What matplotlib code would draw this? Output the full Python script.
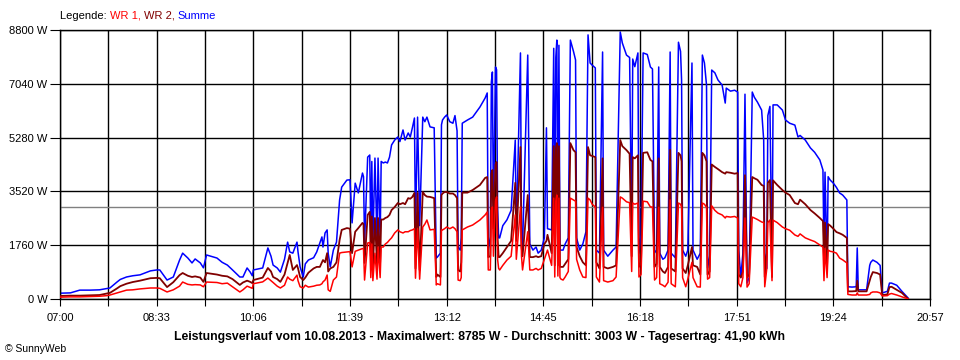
import numpy as np
import matplotlib
matplotlib.use("Agg")
import matplotlib.pyplot as plt

# minutes after 07:00, WR 1 / WR 2 / Summe in W
minutes = [0, 10, 19, 29, 38, 45, 48, 55, 58, 64, 70, 77, 87, 93, 96, 103, 109, 115, 118, 123,
           127, 130, 135, 138, 141, 151, 156, 161, 166, 173, 176, 180, 183, 185, 186, 195, 200, 203, 205, 209,
           212, 216, 219, 221, 224, 228, 229, 231, 234, 236, 239, 244, 247, 250, 252, 253, 255, 257, 258, 260,
           263, 266, 269, 271, 276, 279, 281, 284, 287, 291, 292, 293, 296, 298, 299, 300, 301, 303, 305, 306,
           308, 309, 311, 313, 315, 317, 319, 322, 325, 327, 330, 332, 335, 337, 339, 341, 342, 344, 346, 349,
           351, 353, 356, 360, 362, 363, 366, 367, 368, 370, 372, 375, 378, 380, 382, 383, 385, 386, 387, 392,
           397, 404, 409, 411, 412, 414, 415, 416, 417, 419, 420, 421, 422, 423, 426, 430, 434, 438, 439, 443,
           444, 445, 450, 452, 455, 458, 460, 463, 466, 468, 469, 473, 475, 476, 477, 478, 479, 480, 481, 482,
           484, 486, 489, 491, 494, 496, 497, 500, 503, 506, 508, 510, 512, 515, 516, 519, 522, 523, 527, 532,
           535, 539, 541, 545, 548, 550, 551, 553, 556, 557, 559, 561, 565, 568, 570, 572, 574, 576, 577, 580,
           582, 585, 587, 588, 592, 595, 597, 598, 599, 602, 604, 608, 609, 613, 616, 618, 620, 622, 623, 625,
           627, 630, 633, 637, 640, 641, 645, 649, 652, 653, 655, 657, 659, 661, 663, 666, 668, 671, 675, 677,
           678, 680, 681, 683, 685, 686, 690, 695, 698, 702, 707, 710, 712, 717, 722, 726, 731, 734, 735, 736,
           738, 739, 741, 744, 747, 750, 753, 757, 758, 762, 766, 767, 768, 776, 779, 780, 782, 786, 789, 791,
           796, 798, 800, 805, 810, 816]

wr1 = [60, 70, 70, 80, 90, 110, 130, 200, 230, 290, 300, 330, 360, 360, 350, 230, 300, 420, 555, 480,
       460, 470, 460, 400, 555, 540, 500, 520, 400, 230, 300, 420, 380, 350, 500, 560, 685, 600, 540, 420,
       360, 450, 720, 650, 600, 780, 600, 400, 360, 450, 390, 420, 450, 460, 500, 560, 620, 785, 300, 250,
       620, 720, 1500, 1520, 1540, 1550, 1050, 1560, 1600, 1650, 1640, 620, 1830, 1850, 700, 1800, 600, 1500, 650, 1700,
       700, 1700, 1700, 1800, 1850, 1930, 2000, 2160, 2260, 2200, 2160, 2200, 2200, 2240, 2260, 2300, 680, 2300, 650, 2355,
       2450, 2585, 2260, 2280, 460, 500, 460, 2260, 2260, 2300, 2355, 2300, 2355, 2300, 2200, 620, 600, 700, 2260, 2355,
       2420, 2585, 2750, 2845, 950, 950, 2900, 3010, 1400, 3200, 3340, 1300, 1000, 950, 1100, 1275, 1400, 2750, 1300, 3010,
       1400, 950, 2200, 950, 950, 1000, 950, 1000, 1300, 1500, 1600, 1100, 3300, 720, 3200, 3400, 750, 3300, 700, 650,
       620, 720, 900, 3300, 3240, 3200, 1300, 950, 720, 700, 3300, 3240, 3100, 3010, 720, 555, 3000, 600, 555, 600,
       720, 3340, 3300, 3180, 3150, 900, 3140, 3100, 3140, 720, 800, 3200, 3180, 3010, 3010, 620, 700, 3000, 500, 450,
       400, 550, 3240, 500, 400, 3140, 3100, 3000, 700, 400, 650, 1200, 700, 400, 390, 3140, 3100, 3000, 650, 700,
       3050, 2900, 2810, 2750, 2650, 2700, 2680, 2700, 2650, 500, 400, 700, 2650, 390, 500, 2680, 2650, 2600, 2520, 2500,
       400, 1000, 2500, 2585, 600, 2580, 2500, 2355, 2300, 2250, 2095, 2050, 2130, 2000, 1930, 1880, 1765, 1700, 600, 1650,
       700, 1600, 1560, 1540, 1500, 1340, 1280, 1180, 150, 130, 130, 200, 130, 130, 150, 200, 230, 230, 200, 100,
       110, 160, 180, 130, 70, 0]

wr2 = [100, 110, 110, 120, 130, 180, 200, 350, 420, 500, 555, 600, 680, 690, 680, 390, 550, 780, 850, 760,
       720, 740, 700, 560, 850, 800, 760, 740, 650, 460, 540, 600, 560, 520, 620, 700, 1015, 900, 720, 650,
       560, 800, 1180, 1440, 950, 1110, 1000, 720, 620, 700, 860, 1000, 1050, 1050, 1200, 1275, 1200, 1500, 900, 1000,
       1050, 1200, 1930, 2260, 2320, 2300, 1500, 2200, 2320, 2490, 2450, 1180, 2750, 2850, 1400, 2700, 1000, 2650, 1100, 2650,
       1200, 2600, 2600, 2650, 2680, 2750, 2910, 3010, 3140, 3100, 3140, 3100, 3300, 3280, 3340, 3470, 1000, 3470, 950, 3500,
       3400, 3350, 3340, 3300, 720, 800, 720, 3400, 3450, 3500, 3500, 3450, 3450, 3400, 3300, 950, 900, 1200, 3480, 3480,
       3565, 3730, 3960, 3990, 1370, 1400, 4100, 4220, 2300, 4400, 4480, 2000, 1370, 1370, 1500, 1700, 1900, 3800, 1900, 4970,
       1700, 1400, 3400, 1370, 1370, 1400, 1370, 1400, 1800, 1900, 2100, 1500, 5000, 1100, 4900, 5100, 1100, 5000, 1050, 1050,
       1050, 1150, 1300, 5100, 4870, 4800, 1700, 1400, 1200, 1100, 4970, 4700, 4680, 4640, 1200, 1000, 4600, 1050, 1000, 1050,
       1100, 5200, 5000, 4870, 4750, 1400, 4640, 4600, 4700, 1050, 1200, 4780, 4800, 4550, 4500, 1050, 1150, 4600, 1050, 900,
       850, 1050, 4880, 1000, 900, 4780, 4700, 4500, 1000, 850, 1100, 1700, 1100, 1050, 800, 4780, 4700, 4500, 800, 900,
       4400, 4320, 4250, 4150, 4100, 4150, 4130, 4100, 4120, 800, 700, 900, 4050, 700, 800, 3990, 3950, 3900, 3730, 3700,
       720, 1500, 3800, 3890, 720, 3880, 3730, 3565, 3480, 3400, 3140, 3100, 3250, 3100, 2910, 2800, 2650, 2550, 1300, 2500,
       1100, 2450, 2400, 2300, 2190, 2150, 2100, 2000, 250, 250, 260, 600, 250, 250, 600, 720, 880, 850, 800, 130,
       150, 390, 400, 300, 200, 0]

summe = [190, 200, 290, 290, 300, 340, 360, 560, 640, 720, 760, 790, 920, 950, 950, 620, 720, 1270, 1500, 1340,
         1180, 1310, 1180, 1020, 1440, 1340, 1200, 1110, 950, 720, 720, 1015, 880, 760, 950, 1015, 1670, 1400, 1110, 1015,
         880, 1300, 1860, 1540, 1500, 1860, 1540, 1050, 720, 1150, 1275, 1350, 1540, 1830, 2030, 1700, 2160, 2260, 1500, 1050,
         1600, 1860, 3240, 3660, 3890, 3900, 2490, 3790, 3470, 4120, 4000, 1830, 4640, 4710, 1930, 4500, 1830, 4610, 1850, 4610,
         1900, 4500, 4450, 4480, 4450, 4640, 5040, 5200, 5300, 5150, 5530, 5200, 5430, 5300, 5600, 5920, 2260, 5950, 2400, 5950,
         5800, 5950, 5630, 5600, 1340, 1370, 1500, 5700, 5855, 5950, 6020, 5800, 5750, 6000, 5500, 1700, 1600, 2000, 5750, 5855,
         5950, 6280, 6575, 6740, 1600, 2030, 7100, 7425, 2600, 7590, 7500, 3000, 2000, 2000, 2400, 2590, 2900, 5200, 2000, 8050,
         2000, 1700, 7980, 1800, 1600, 1700, 1500, 1600, 2000, 5600, 2300, 2260, 8200, 2000, 7900, 8470, 1700, 8300, 1600, 1600,
         1600, 1800, 2000, 8470, 8100, 7820, 2000, 1600, 1800, 2200, 8640, 7720, 7650, 7560, 1600, 1500, 8080, 1600, 1400, 1600,
         1700, 8735, 8375, 7980, 7900, 2000, 7850, 7600, 8050, 1500, 2100, 8050, 8000, 7590, 7525, 1600, 1500, 7590, 1500, 1300,
         1350, 1600, 8080, 1500, 1350, 8400, 8100, 7165, 1600, 1400, 1600, 7720, 1600, 1300, 1500, 7980, 7720, 7000, 1015, 1400,
         7490, 7400, 7165, 7000, 6410, 6900, 6800, 6830, 6770, 1600, 720, 1500, 6700, 520, 700, 6770, 6600, 6440, 6180, 5200,
         1500, 1000, 6000, 6300, 1000, 6350, 6350, 6180, 5855, 5750, 5690, 5300, 5350, 5200, 4940, 4800, 4550, 4220, 1500, 4150,
         1100, 4000, 3890, 3790, 3650, 3470, 3400, 3240, 400, 390, 400, 1670, 300, 300, 1100, 1200, 1275, 1200, 1100, 200,
         250, 520, 520, 450, 250, 30]

assert len(minutes) == len(wr1) == len(wr2) == len(summe)

y_ticks = [0, 1760, 3520, 5280, 7040, 8800]
x_labels = ["07:00", "08:33", "10:06", "11:39", "13:12", "14:45", "16:18", "17:51", "19:24", "20:57"]
average = 3003
title = ("Leistungsverlauf vom 10.08.2013 - Maximalwert: 8785 W - "
         "Durchschnitt: 3003 W - Tagesertrag: 41,90 kWh")

plt.rcParams["font.family"] = ["Liberation Sans", "DejaVu Sans"]
plt.rcParams["font.size"] = 8

fig = plt.figure(figsize=(9.6, 3.6), dpi=100)
ax = fig.add_axes([60 / 960, 1 - 299 / 360, 870 / 960, 269 / 360])

ax.set_xlim(0, 837)
ax.set_ylim(0, 8800)

major = np.arange(0, 838, 93)
minor = np.arange(46.5, 837, 93)
ax.set_xticks(major)
ax.set_xticklabels(x_labels)
ax.set_xticks(minor, minor=True)
ax.set_yticks(y_ticks)
ax.set_yticklabels([f"{v} W" for v in y_ticks])

ax.grid(which="both", color="black", lw=1.0)
ax.set_axisbelow(True)
ax.tick_params(axis="x", which="both", direction="out", length=5, width=0.8, pad=5, colors="black")
ax.tick_params(axis="y", direction="out", length=7, width=0.8, pad=2)
for s in ax.spines.values():
    s.set_color("black")
    s.set_linewidth(1.0)

ax.axhline(average, color="#808080", lw=1.0, zorder=1.5)

ax.plot(minutes, summe, color="#0000FF", lw=1.1, zorder=2)
ax.plot(minutes, wr2, color="#800000", lw=1.3, zorder=3)
ax.plot(minutes, wr1, color="#FF0000", lw=1.1, zorder=4)

# legend line at the top, coloured word by word
fig.canvas.draw()
renderer = fig.canvas.get_renderer()
x0 = 60 / 960
parts = [("Legende: ", "black"), ("WR 1, ", "#FF0000"), ("WR 2, ", "#800000"), ("Summe", "#0000FF")]
for txt, col in parts:
    t = fig.text(x0, 1 - 16 / 360, txt, color=col, va="center", ha="left")
    bb = t.get_window_extent(renderer)
    x0 += bb.width / fig.bbox.width

fig.text(0.5, 1 - 337 / 360, title, ha="center", va="center", fontweight="bold", fontsize=8.8)
fig.text(5 / 960, 1 - 349 / 360, "\u00a9 SunnyWeb", ha="left", va="center", fontsize=7.5)

fig.savefig("out.png", dpi=100, facecolor="white")
